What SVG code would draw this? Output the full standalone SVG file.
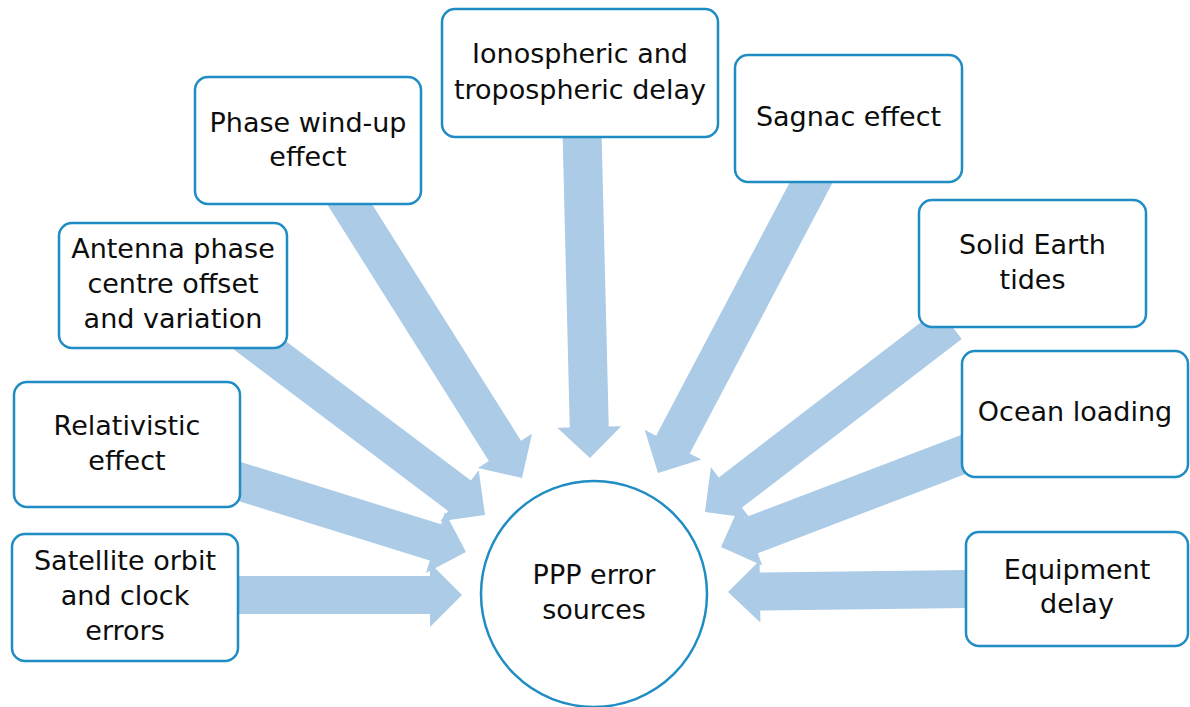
<svg xmlns="http://www.w3.org/2000/svg" width="1190" height="707" viewBox="0 0 1190 707">
<style>
.box{fill:#ffffff;stroke:#1f8dc4;stroke-width:2.5}
.arr{fill:#abcbe7;stroke:none}
.t{font-family:"DejaVu Sans","Liberation Sans",sans-serif;font-size:27px;fill:#0d0d0d;text-anchor:middle}
</style>
<rect width="1190" height="707" fill="#ffffff"/>
<g id="connectors">
<polygon class="arr" points="0,0 -32,-32 -32,-19 -262,-19 -262,19 -32,19 -32,32" transform="translate(462,595) rotate(0)"/>
<polygon class="arr" points="0,0 -32,-32 -32,-19 -257,-19 -257,19 -32,19 -32,32" transform="translate(466,552) rotate(17.3)"/>
<polygon class="arr" points="0,0 -32,-32 -32,-19 -320,-19 -320,19 -32,19 -32,32" transform="translate(485,515) rotate(37)"/>
<polygon class="arr" points="0,0 -32,-32 -32,-19 -360,-19 -360,19 -32,19 -32,32" transform="translate(522,478) rotate(57.8)"/>
<polygon class="arr" points="0,0 -31,-32 -31,-19.5 -360,-19.5 -360,19.5 -31,19.5 -31,32" transform="translate(590,458) rotate(88.6)"/>
<polygon class="arr" points="0,0 -32,-32 -32,-19 -365,-19 -365,19 -32,19 -32,32" transform="translate(658,473) rotate(117.8)"/>
<polygon class="arr" points="0,0 -32,-32 -32,-19 -309,-19 -309,19 -32,19 -32,32" transform="translate(705,512) rotate(142.5)"/>
<polygon class="arr" points="0,0 -32,-32 -32,-19 -298,-19 -298,19 -32,19 -32,32" transform="translate(721,547) rotate(159.1)"/>
<polygon class="arr" points="0,0 -32,-31 -32,-19 -280,-19 -280,19 -32,19 -32,31" transform="translate(728,592) rotate(179.3)"/>
</g>
<g id="node-satellite">
<rect class="box" x="12" y="534" width="226" height="127" rx="13"/>
<text class="t" x="125" y="570">Satellite orbit</text>
<text class="t" x="125" y="605">and clock</text>
<text class="t" x="125" y="640">errors</text>
</g>
<g id="node-relativistic">
<rect class="box" x="14" y="382" width="226" height="125" rx="13"/>
<text class="t" x="127" y="435">Relativistic</text>
<text class="t" x="127" y="470">effect</text>
</g>
<g id="node-antenna">
<rect class="box" x="59" y="223" width="228" height="125" rx="13"/>
<text class="t" x="173" y="258">Antenna phase</text>
<text class="t" x="173" y="293">centre offset</text>
<text class="t" x="173" y="328">and variation</text>
</g>
<g id="node-phase">
<rect class="box" x="195" y="77" width="226" height="127" rx="13"/>
<text class="t" x="308" y="132">Phase wind-up</text>
<text class="t" x="308" y="166">effect</text>
</g>
<g id="node-iono">
<rect class="box" x="442" y="9" width="276" height="128" rx="13"/>
<text class="t" x="580" y="63">Ionospheric and</text>
<text class="t" x="580" y="99">tropospheric delay</text>
</g>
<g id="node-sagnac">
<rect class="box" x="735" y="55" width="227" height="127" rx="13"/>
<text class="t" x="848.5" y="126">Sagnac effect</text>
</g>
<g id="node-solid">
<rect class="box" x="919" y="200" width="227" height="127" rx="13"/>
<text class="t" x="1032.5" y="254">Solid Earth</text>
<text class="t" x="1032.5" y="289">tides</text>
</g>
<g id="node-ocean">
<rect class="box" x="962" y="351" width="226" height="126" rx="13"/>
<text class="t" x="1075" y="421">Ocean loading</text>
</g>
<g id="node-equipment">
<rect class="box" x="966" y="532" width="222" height="114" rx="13"/>
<text class="t" x="1077" y="579">Equipment</text>
<text class="t" x="1077" y="613">delay</text>
</g>
<g id="node-ppp">
<circle class="box" cx="594" cy="594" r="113"/>
<text class="t" x="594" y="584">PPP error</text>
<text class="t" x="594" y="619">sources</text>
</g>
</svg>
